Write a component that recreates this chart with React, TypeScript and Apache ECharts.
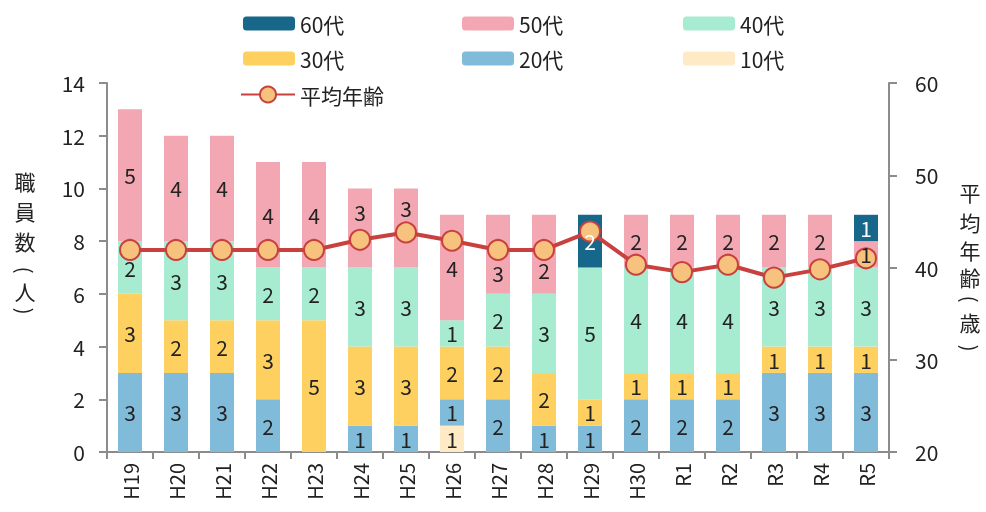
import React, { useEffect, useRef } from "react";
import * as echarts from "echarts";

const categories = ["H19", "H20", "H21", "H22", "H23", "H24", "H25", "H26", "H27", "H28", "H29", "H30", "R1", "R2", "R3", "R4", "R5"];
const age10 = [0, 0, 0, 0, 0, 0, 0, 1, 0, 0, 0, 0, 0, 0, 0, 0, 0];
const age20 = [3, 3, 3, 2, 0, 1, 1, 1, 2, 1, 1, 2, 2, 2, 3, 3, 3];
const age30 = [3, 2, 2, 3, 5, 3, 3, 2, 2, 2, 1, 1, 1, 1, 1, 1, 1];
const age40 = [2, 3, 3, 2, 2, 3, 3, 1, 2, 3, 5, 4, 4, 4, 3, 3, 3];
const age50 = [5, 4, 4, 4, 4, 3, 3, 4, 3, 3, 0, 2, 2, 2, 2, 2, 1];
const age60 = [0, 0, 0, 0, 0, 0, 0, 0, 0, 0, 2, 0, 0, 0, 0, 0, 1];
const avgAge = [41.9, 41.9, 41.9, 41.9, 41.9, 43.0, 43.8, 42.9, 41.9, 41.9, 43.9, 40.3, 39.5, 40.3, 38.9, 39.8, 41.0];
// label text shown in the reference where it differs from the segment height
const labelOverrides: Record<string, string> = { "50代:H28": "2" };
// labels nudged away from the line, as in the reference
const labelOffsets: Record<string, number[]> = {
  "50代:H24": [0, -16],
  "50代:H25": [0, -20],
  "50代:H27": [0, 19],
  "50代:H28": [0, 16],
};

const leftTicks = { min: 0, max: 14, interval: 2 };
const rightTicks = { min: 20, max: 60, interval: 10 };

const leftName = ["職", "員", "数", "(", "人", ")"];
const rightName = ["平", "均", "年", "齢", "(", "歳", ")"];

const FONT = "'Noto Sans CJK JP', 'Noto Sans', sans-serif";
const AXIS_COLOR = "#8c8c8c";
const TEXT_COLOR = "#222";

const barDefs = [
  { name: "10代", data: age10, color: "#feebc5", label: TEXT_COLOR },
  { name: "20代", data: age20, color: "#80bbd9", label: TEXT_COLOR },
  { name: "30代", data: age30, color: "#fed05f", label: TEXT_COLOR },
  { name: "40代", data: age40, color: "#a7ecd0", label: TEXT_COLOR },
  { name: "50代", data: age50, color: "#f2a7b2", label: TEXT_COLOR },
  { name: "60代", data: age60, color: "#17678a", label: "#ffffff" },
];

const legendLayout = [
  { name: "60代", left: 243, top: 13 },
  { name: "50代", left: 462, top: 13 },
  { name: "40代", left: 683, top: 13 },
  { name: "30代", left: 243, top: 48 },
  { name: "20代", left: 462, top: 48 },
  { name: "10代", left: 683, top: 48 },
];

export default function App() {
  const ref = useRef<HTMLDivElement>(null);
  useEffect(() => {
    if (!ref.current) return;
    const chart = echarts.init(ref.current, undefined, { renderer: "svg" });

    const barSeries = barDefs.map((d) => ({
      name: d.name,
      type: "bar",
      stack: "total",
      barWidth: 24,
      barGap: "-100%",
      data: d.data,
      itemStyle: { color: d.color },
      label: { show: false },
    }));

    // transparent twin bars carrying the labels, drawn above the line
    const labelSeries = barDefs.map((d) => ({
      name: d.name + "_label",
      type: "bar",
      stack: "labels",
      barWidth: 24,
      barGap: "-100%",
      z: 20,
      silent: true,
      itemStyle: { color: "rgba(0,0,0,0)" },
      data: d.data.map((v, i) => {
        const key = d.name + ":" + categories[i];
        const item: any = { value: v };
        if (labelOffsets[key]) item.label = { offset: labelOffsets[key] };
        return item;
      }),
      label: {
        show: true,
        position: "inside",
        color: d.label,
        fontFamily: FONT,
        fontSize: 21,
        lineHeight: 21,
        formatter: (p: any) => {
          const key = d.name + ":" + p.name;
          if (labelOverrides[key]) return labelOverrides[key];
          return p.value > 0 ? String(p.value) : "";
        },
      },
    }));

    const legends: any[] = legendLayout.map((l) => ({
      data: [l.name],
      left: l.left,
      top: l.top,
      padding: 0,
      itemWidth: 52,
      itemHeight: 14,
      itemGap: 0,
      selectedMode: false,
      textStyle: { fontFamily: FONT, fontSize: 21, color: TEXT_COLOR },
    }));
    legends.push({
      data: ["平均年齢"],
      left: 240,
      top: 84,
      padding: 0,
      itemWidth: 54,
      itemHeight: 20,
      selectedMode: false,
      textStyle: { fontFamily: FONT, fontSize: 21, color: TEXT_COLOR },
    });

    const axisCommon = {
      axisLine: { show: true, lineStyle: { color: AXIS_COLOR, width: 2 } },
      axisTick: { show: true, inside: false, length: 8, lineStyle: { color: AXIS_COLOR, width: 2 } },
      splitLine: { show: false },
    };

    const nameText = (chars: string[], x: number, ys: number[]) =>
      chars.map((c, i) => {
        const isParen = c === "(" || c === ")";
        return {
          type: "text",
          x,
          y: ys[i],
          rotation: isParen ? -Math.PI / 2 : 0,
          style: {
            text: c,
            fontFamily: FONT,
            fontSize: isParen ? 20 : 21,
            fill: TEXT_COLOR,
            align: "center",
            verticalAlign: "middle",
          },
        };
      });

    chart.setOption({
      animation: false,
      textStyle: { fontFamily: FONT },
      legend: legends,
      grid: { left: 107, right: 97, top: 83, bottom: 60, containLabel: false },
      xAxis: {
        type: "category",
        data: categories,
        ...axisCommon,
        axisTick: { show: true, alignWithLabel: false, length: 7, lineStyle: { color: AXIS_COLOR, width: 2 } },
        axisLabel: { interval: 0, rotate: 90, margin: 11, fontFamily: FONT, fontSize: 20, color: TEXT_COLOR },
      },
      yAxis: [
        {
          type: "value",
          position: "left",
          ...leftTicks,
          ...axisCommon,
          axisLabel: { margin: 22, fontFamily: FONT, fontSize: 21, color: TEXT_COLOR },
        },
        {
          type: "value",
          position: "right",
          ...rightTicks,
          ...axisCommon,
          axisLabel: { margin: 26, fontFamily: FONT, fontSize: 21, color: TEXT_COLOR },
        },
      ],
      graphic: [
        ...nameText(leftName, 25, [181, 211, 241, 270, 291, 311]),
        ...nameText(rightName, 970, [192, 222, 250, 277, 299, 322, 348]),
      ],
      series: [
        ...barSeries,
        {
          name: "平均年齢",
          type: "line",
          yAxisIndex: 1,
          data: avgAge,
          z: 10,
          symbol: "circle",
          symbolSize: 20,
          lineStyle: { color: "#c8413f", width: 4 },
          itemStyle: { color: "#f6c27d", borderColor: "#c8413f", borderWidth: 2 },
          label: { show: false },
        },
        ...labelSeries,
      ],
    });
    return () => chart.dispose();
  }, []);
  return <div ref={ref} style={{ position: "fixed", left: 0, top: 0, width: 986, height: 512 }} />;
}
